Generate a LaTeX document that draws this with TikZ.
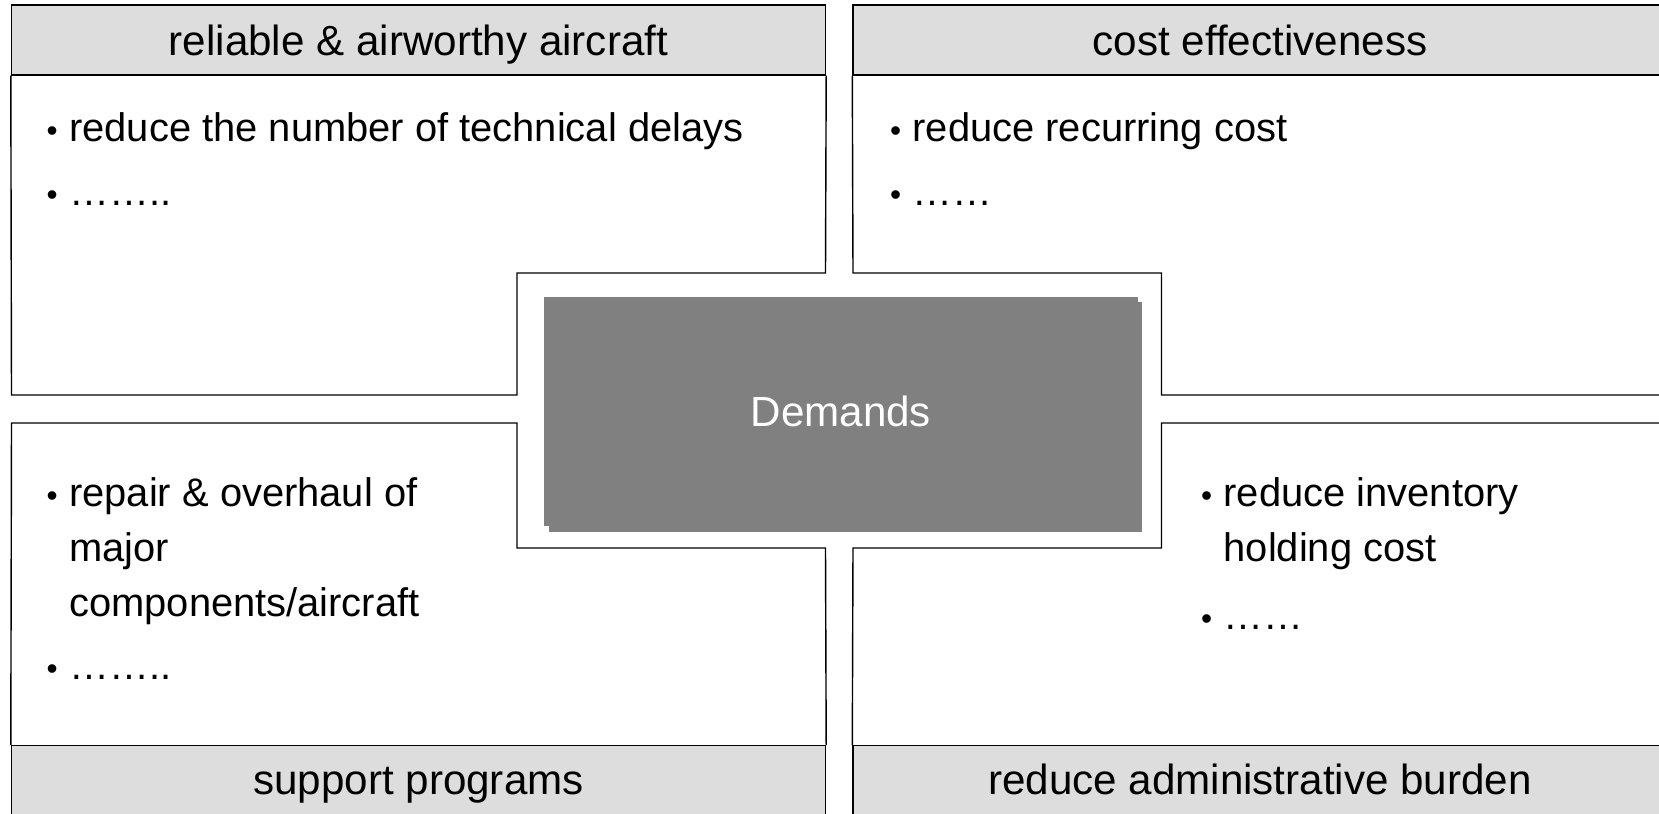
\documentclass[tikz,border=0pt]{standalone}
\usepackage{fontspec}
\setmainfont{Liberation Sans}
\usetikzlibrary{shadows}

\definecolor{headgray}{RGB}{221,221,221}
\definecolor{demandgray}{RGB}{128,128,128}

% bullet and hanging indent for the lists
\newcommand\itembullet{\makebox[0.226cm][l]{\fontsize{9}{9}\selectfont•}}
\newcommand\itempad{\hspace*{0.226cm}}

\begin{document}
\begin{tikzpicture}[
  every node/.style={font=\fontsize{12}{14}\selectfont},
  bar/.style={draw=black, fill=headgray, line width=0.4pt, minimum width=8.14cm, minimum height=0.70cm, inner sep=0pt},
  head/.style={bar, text height=0.35cm, text depth=0.05cm},
  foot/.style={bar, text height=0.36cm, text depth=0.08cm},
  panel/.style={draw=black, line width=0.4pt},
  item/.style={anchor=base west, align=left, inner sep=0pt, font=\fontsize{11.35}{15.6}\selectfont},
  demandbox/.style={fill=demandgray, text=white, minimum width=5.936cm, minimum height=2.293cm, inner sep=0pt,
    drop shadow={opacity=1, fill=demandgray, shadow xshift=0.045cm, shadow yshift=-0.057cm}}
]
\useasboundingbox (0,0) rectangle (16.59,8.13);
\clip (0,0) rectangle (16.59,8.13);

% Cabeceras y pies
\node[head] (tlhead) at (4.185,7.73) {reliable \& airworthy aircraft};
\node[head] (trhead) at (12.6,7.73) {cost effectiveness};
\node[foot] (blfoot) at (4.185,0.323) {support programs};
\node[foot] (brfoot) at (12.6,0.323) {reduce administrative burden};

% Paneles con esquina recortada
\draw[panel] (tlhead.south west) -- (0.115,4.18) -- (5.17,4.18) -- (5.17,5.40) -- (8.255,5.40) -- (tlhead.south east);
\draw[panel] (trhead.south west) -- (8.53,5.40) -- (11.615,5.40) -- (11.615,4.18) -- (16.67,4.18) -- (trhead.south east);
\draw[panel] (blfoot.north west) -- (0.115,3.90) -- (5.17,3.90) -- (5.17,2.65) -- (8.255,2.65) -- (blfoot.north east);
\draw[panel] (brfoot.north east) -- (16.67,3.90) -- (11.615,3.90) -- (11.615,2.65) -- (8.53,2.65) -- (brfoot.north west);

% Caja central
\node[demandbox] (demands) at (8.408,4.017) {Demands};

% Listas (la base es la de la ultima linea)
\node[item] (tl1) at (0.46,6.713) {\itembullet reduce the number of technical delays};
\node[item] (tl2) at (0.46,6.08) {\itembullet ……..};
\node[item] (tr1) at (8.894,6.713) {\itembullet reduce recurring cost};
\node[item] (tr2) at (8.894,6.08) {\itembullet ……};
\node[item] (bl1) at (0.46,1.97) {\itembullet repair \& overhaul of\\ \itempad major\\ \itempad components/aircraft};
\node[item] (bl2) at (0.46,1.34) {\itembullet ……..};
\node[item] (br1) at (12.004,2.52) {\itembullet reduce inventory\\ \itempad holding cost};
\node[item] (br2) at (12.004,1.84) {\itembullet ……};

\end{tikzpicture}
\end{document}
